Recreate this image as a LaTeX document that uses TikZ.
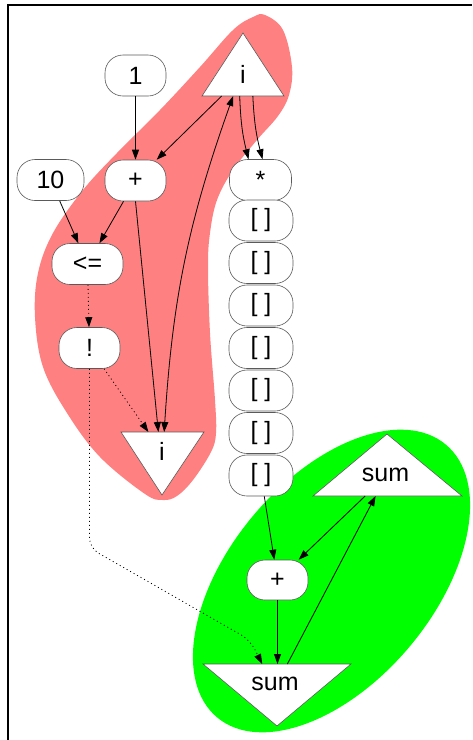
\documentclass[tikz,border=0pt]{standalone}
\usepackage{fontspec}
\setmainfont{Liberation Sans}
\usetikzlibrary{shapes.geometric,arrows.meta,calc}
\definecolor{blobred}{RGB}{255,128,128}
\definecolor{blobgreen}{RGB}{0,255,0}
\definecolor{boxline}{RGB}{90,90,90}
\begin{document}
\begin{tikzpicture}[x=1pt,y=-1pt,
  font=\fontsize{25}{30}\selectfont,
  rbox/.style={draw=boxline, line width=0.6pt, fill=white, rounded corners=18pt,
    minimum height=41pt, inner sep=0pt},
  tri/.style={draw=boxline, line width=0.6pt, fill=white},
  lbl/.style={inner sep=0pt},
  edge/.style={line width=0.8pt, -{Triangle[length=10pt,width=7pt]}},
  biedge/.style={line width=0.8pt, {Triangle[length=10pt,width=7pt]}-{Triangle[length=10pt,width=7pt]}},
  dotedge/.style={edge, dash pattern=on 1pt off 3pt}
]
\useasboundingbox (0,0) rectangle (472,740);
% frame
\draw[line width=2pt] (8,740) -- (8,5) -- (472,5);

% clusters
\fill[blobred] plot[smooth cycle, tension=0.6] coordinates {
 (265,15) (283,30) (292,67) (289,95) (278,116) (257,140) (233,170) (217,200)
 (210,233) (208,267) (210,333) (215,400) (216,433) (211,452) (193,480) (177,496)
 (163,500) (145,494) (100,457) (67,413) (43,367) (35,317) (38,273) (53,233)
 (83,190) (117,153) (160,110) (200,67) (233,30) (253,17)};
\node[ellipse, fill=blobgreen, minimum width=356pt, minimum height=204pt,
  rotate=50, inner sep=0pt] (gblob) at (331.5,581) {};

% boxes
\node[rbox, minimum width=61pt] (none) at (135.5,75.5) {1};
\node[rbox, minimum width=67pt] (nten) at (50.5,180) {10};
\node[rbox, minimum width=61pt] (nplus) at (135.5,180.5) {+};
\node[rbox, minimum width=62pt] (nstar) at (260.5,180) {*};
\foreach \k/\yy in {1/220.5,2/263,3/305.5,4/348,5/390.5,6/433,7/475.5}
  \node[rbox, minimum width=64pt] (b\k) at (261,\yy) {[ ]};
\node[rbox, minimum width=71pt] (nle) at (87.5,264) {<=};
\node[rbox, minimum width=61pt] (nnot) at (89.5,348) {!};
\node[rbox, minimum width=61pt, minimum height=40pt] (lplus) at (277.5,580) {+};

% triangles
\coordinate (tiA) at (243,33); \coordinate (tiL) at (202,96); \coordinate (tiR) at (284,96);
\draw[tri] (tiA) -- (tiL) -- (tiR) -- cycle;
\node[lbl] (ti) at (243,74) {i};

\coordinate (biL) at (121,432); \coordinate (biR) at (204,432); \coordinate (biA) at (162,495);
\draw[tri] (biL) -- (biR) -- (biA) -- cycle;
\node[lbl] (bi) at (162,451) {i};

\coordinate (tsA) at (387,434); \coordinate (tsL) at (313,496); \coordinate (tsR) at (462,496);
\draw[tri] (tsA) -- (tsL) -- (tsR) -- cycle;
\node[lbl] (ts) at (385.5,475) {sum};

\coordinate (bsL) at (203,664); \coordinate (bsR) at (351,664); \coordinate (bsA) at (277,726);
\draw[tri] (bsL) -- (bsR) -- (bsA) -- cycle;
\node[lbl] (bs) at (275,684) {sum};

% edges
\draw[edge] (none) -- (nplus);
\draw[edge] ($(tiL)!0.24!(tiR)$) -- (nplus);
\draw[edge] ($(tiL)!0.46!(tiR)$) to[bend right=6] ($(nstar.north)+(-12,0)$);
\draw[edge] ($(tiL)!0.62!(tiR)$) to[bend right=6] ($(nstar.north)+(2,0)$);
\draw[edge] (nten) -- (nle);
\draw[edge] (nplus) -- (nle);
\draw[edge] (nplus.south) -- ($(biL)!0.45!(biR)$);
\draw[biedge] ($(biL)!0.52!(biR)$) to[bend left=8] ($(tiL)!0.38!(tiR)$);
\draw[dotedge] (nle) -- (nnot);
\draw[dotedge] (nnot) -- ($(biL)!0.33!(biR)$);
\draw[dotedge, rounded corners=10pt] (nnot.south) -- (89.5,548) -- (250,640) -- ($(bsL)!0.4!(bsR)$);
\draw[edge] (b7) -- (lplus);
\draw[edge] ($(tsL)!0.35!(tsR)$) -- (lplus);
\draw[edge] (lplus.south) -- (lplus.south |- bsL);
\draw[edge] ($(bsL)!0.57!(bsR)$) -- ($(tsL)!0.42!(tsR)$);
\end{tikzpicture}
\end{document}
